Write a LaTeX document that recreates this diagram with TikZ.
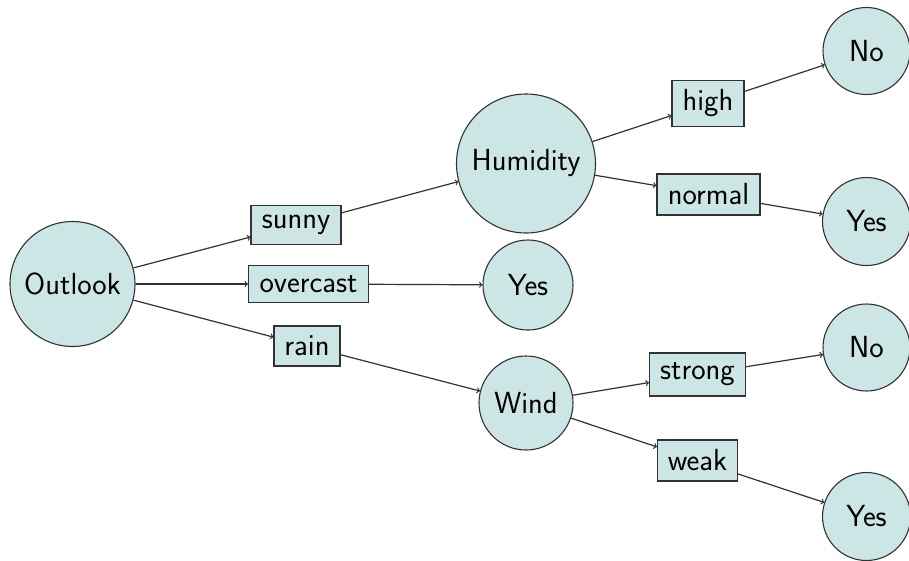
\documentclass[tikz,border=0pt]{standalone}
\definecolor{nodefill}{RGB}{204,230,229}
\definecolor{linecol}{RGB}{50,50,50}
\begin{document}
\begin{tikzpicture}[x=1pt,y=-1pt,
  font=\sffamily\fontsize{30.5}{36}\selectfont,
  circ/.style={circle,draw=linecol,fill=nodefill,line width=1.1pt,inner sep=0pt},
  lbl/.style={rectangle,draw=linecol,fill=nodefill,line width=1.1pt,inner sep=0pt},
  conn/.style={draw=linecol,line width=1.2pt,->,>=to}]
\useasboundingbox (0,0) rectangle (909,560);
\node[circ,minimum size=125pt] (outlook) at (72.5,284) {Outlook};
\node[circ,minimum size=139pt] (humid) at (526,163.5) {Humidity};
\node[circ,minimum size=90pt] (yesmid) at (528,285) {Yes};
\node[circ,minimum size=94pt] (wind) at (526,403) {Wind};
\node[circ,minimum size=87pt] (no1) at (866.5,51) {No};
\node[circ,minimum size=88pt] (yes1) at (866.5,221.5) {Yes};
\node[circ,minimum size=87pt] (no2) at (866.5,347.5) {No};
\node[circ,minimum size=88pt] (yes2) at (866.5,516.5) {Yes};
\node[lbl,minimum width=90pt,minimum height=39pt] (sunny) at (296,225) {sunny};
\node[lbl,minimum width=120pt,minimum height=37pt] (overcast) at (308.5,284) {overcast};
\node[lbl,minimum width=66pt,minimum height=40pt] (rain) at (307,346) {rain};
\node[lbl,minimum width=72pt,minimum height=46pt] (high) at (708,103.5) {high};
\node[lbl,minimum width=103pt,minimum height=41pt] (normal) at (708.5,194.5) {normal};
\node[lbl,minimum width=96pt,minimum height=43pt] (strong) at (697.5,374.5) {strong};
\node[lbl,minimum width=80pt,minimum height=41pt] (weak) at (697.5,460.5) {weak};
\draw[conn] (outlook) -- (sunny);
\draw[conn] (outlook) -- (overcast);
\draw[conn] (outlook) -- (rain);
\draw[conn] (sunny) -- (humid);
\draw[conn] (overcast) -- (yesmid);
\draw[conn] (rain) -- (wind);
\draw[conn] (humid) -- (high);
\draw[conn] (humid) -- (normal);
\draw[conn] (high) -- (no1);
\draw[conn] (normal) -- (yes1);
\draw[conn] (wind) -- (strong);
\draw[conn] (wind) -- (weak);
\draw[conn] (strong) -- (no2);
\draw[conn] (weak) -- (yes2);
\end{tikzpicture}
\end{document}
